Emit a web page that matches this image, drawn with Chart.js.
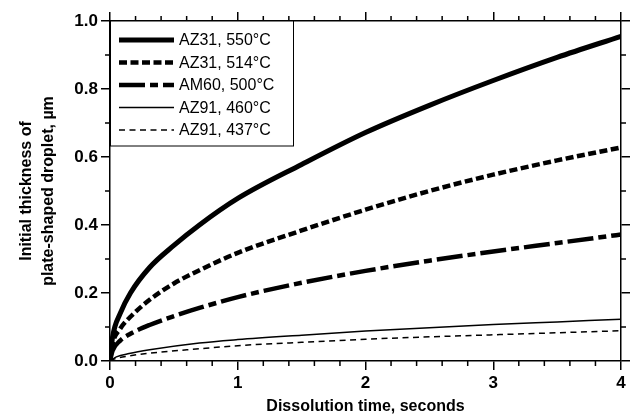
<!DOCTYPE html>
<html>
<head>
<meta charset="utf-8">
<script src="https://cdn.jsdelivr.net/npm/chart.js@4"></script>
<style>
  body { margin: 0; background: #fff; }
</style>
</head>
<body>
<canvas id="chart" width="633" height="416"></canvas>
<script>
// data
var labels = ["AZ31, 550°C", "AZ31, 514°C", "AM60, 500°C", "AZ91, 460°C", "AZ91, 437°C"];

var tA = [0, 0.02, 0.08, 0.16, 0.31, 0.5, 0.7, 1.0, 1.5, 2.0, 2.5, 3.0, 3.5, 4.0];
var az31_550 = [0, 0.07, 0.14, 0.2, 0.275, 0.34, 0.40, 0.478, 0.578, 0.672, 0.752, 0.825, 0.893, 0.955];
var az31_514 = [0, 0.05, 0.095, 0.13, 0.18, 0.228, 0.267, 0.318, 0.384, 0.445, 0.50, 0.548, 0.59, 0.628];
var am60_500 = [0, 0.03, 0.06, 0.08, 0.106, 0.132, 0.156, 0.188, 0.23, 0.265, 0.295, 0.322, 0.347, 0.372];

var tB = [0, 0.05, 0.15, 0.31, 0.7, 1.0, 1.5, 2.0, 2.5, 3.0, 3.5, 4.0];
var az91_460 = [0, 0.012, 0.022, 0.033, 0.053, 0.063, 0.076, 0.088, 0.098, 0.107, 0.115, 0.123];
var az91_437 = [0, 0.008, 0.015, 0.023, 0.036, 0.045, 0.055, 0.064, 0.071, 0.077, 0.083, 0.089];

var xTicks = ["0", "1", "2", "3", "4"];
var yTicks = ["0.0", "0.2", "0.4", "0.6", "0.8", "1.0"];

function pts(xs, ys) {
	var out = [];
	for (var i = 0; i < xs.length; i++) out.push({ x: xs[i], y: ys[i] });
	return out;
}

function serie(i, xs, ys, width, dash) {
	return {
		label: labels[i],
		data: pts(xs, ys),
		borderColor: "#000",
		borderWidth: width,
		borderDash: dash,
		borderCapStyle: "butt",
		pointRadius: 0,
		fill: false,
		cubicInterpolationMode: "monotone"
	};
}

// minor ticks + legend box
var extras = {
	id: "extras",
	afterDraw: function (chart) {
		var ctx = chart.ctx;
		var a = chart.chartArea;
		var sx = chart.scales.x, sy = chart.scales.y;
		ctx.save();
		ctx.strokeStyle = "#000";
		ctx.lineWidth = 1.5;
		ctx.setLineDash([]);
		ctx.beginPath();
		for (var k = 1; k < 20; k++) {
			if (k % 5 == 0) continue;
			var px = sx.getPixelForValue(k * 0.2);
			ctx.moveTo(px, a.bottom); ctx.lineTo(px, a.bottom + 5);
			ctx.moveTo(px, a.top); ctx.lineTo(px, a.top - 5);
		}
		for (var j = 1; j < 10; j += 2) {
			var py = sy.getPixelForValue(j * 0.1);
			ctx.moveTo(a.left, py); ctx.lineTo(a.left - 5, py);
			ctx.moveTo(a.right, py); ctx.lineTo(a.right + 5, py);
		}
		ctx.stroke();

		// legend
		var bx = a.left, by = a.top, bw = 183, bh = 125;
		ctx.fillStyle = "#fff";
		ctx.fillRect(bx, by, bw, bh);
		ctx.lineWidth = 1;
		ctx.strokeRect(bx + 0.5, by, bw, bh);
		ctx.font = "16px Arial, 'Liberation Sans', sans-serif";
		ctx.textBaseline = "middle";
		ctx.fillStyle = "#000";
		chart.data.datasets.forEach(function (ds, i) {
			var yy = by + 19 + i * 22.5;
			ctx.beginPath();
			ctx.lineWidth = ds.borderWidth;
			ctx.setLineDash(ds.borderDash || []);
			ctx.moveTo(bx + 9, yy);
			ctx.lineTo(bx + 64, yy);
			ctx.stroke();
			ctx.setLineDash([]);
			ctx.fillText(ds.label, bx + 69, yy + 1);
		});
		ctx.restore();
	}
};

var tickFont = { family: "Arial, 'Liberation Sans', sans-serif", size: 17, weight: "bold" };
var titleFont = { family: "Arial, 'Liberation Sans', sans-serif", size: 16, weight: "bold" };
var yTitleFont = { family: "Arial, 'Liberation Sans', sans-serif", size: 16, weight: "bold", lineHeight: 1.35 };
var gridOpts = { display: true, drawOnChartArea: false, drawTicks: true, tickLength: 9, color: "#000", lineWidth: 1.5 };
var borderOpts = { display: true, color: "#000", width: 1.5 };

new Chart(document.getElementById("chart"), {
	type: "line",
	data: {
		datasets: [
			serie(0, tA, az31_550, 5, []),
			serie(1, tA, az31_514, 4.5, [8, 3.5]),
			serie(2, tA, am60_500, 4.5, [26, 5, 8, 5]),
			serie(3, tB, az91_460, 1.5, []),
			serie(4, tB, az91_437, 1.5, [6, 4.5])
		]
	},
	options: {
		responsive: false,
		devicePixelRatio: 1,
		animation: false,
		layout: { padding: 0 },
		plugins: { legend: { display: false }, tooltip: { enabled: false } },
		scales: {
			x: {
				type: "linear", position: "bottom", min: 0, max: 4,
				grid: gridOpts, border: borderOpts,
				ticks: { stepSize: 1, color: "#000", font: tickFont, padding: 3, maxRotation: 0,
					callback: function (v) { return xTicks[Math.round(v)]; } },
				title: { display: true, text: "Dissolution time, seconds", color: "#000", font: titleFont, padding: { top: 0, bottom: 0 } },
				afterFit: function (s) { s.height = 55; }
			},
			x2: {
				type: "linear", position: "top", min: 0, max: 4,
				grid: gridOpts, border: borderOpts,
				ticks: { display: false, stepSize: 1 },
				afterFit: function (s) { s.height = 21; }
			},
			y: {
				type: "linear", position: "left", min: 0, max: 1,
				grid: gridOpts, border: borderOpts,
				ticks: { stepSize: 0.2, color: "#000", font: tickFont, padding: 3,
					callback: function (v) { return yTicks[Math.round(v * 5)]; } },
				title: { display: true, text: ["Initial thickness of", "plate-shaped droplet, µm"], color: "#000", font: yTitleFont, padding: { top: 16, bottom: 0 } },
				afterFit: function (s) { s.width = 110; }
			},
			y2: {
				type: "linear", position: "right", min: 0, max: 1,
				grid: gridOpts, border: borderOpts,
				ticks: { display: false, stepSize: 0.2 },
				afterFit: function (s) { s.width = 12; }
			}
		}
	},
	plugins: [extras]
});
</script>
</body>
</html>
